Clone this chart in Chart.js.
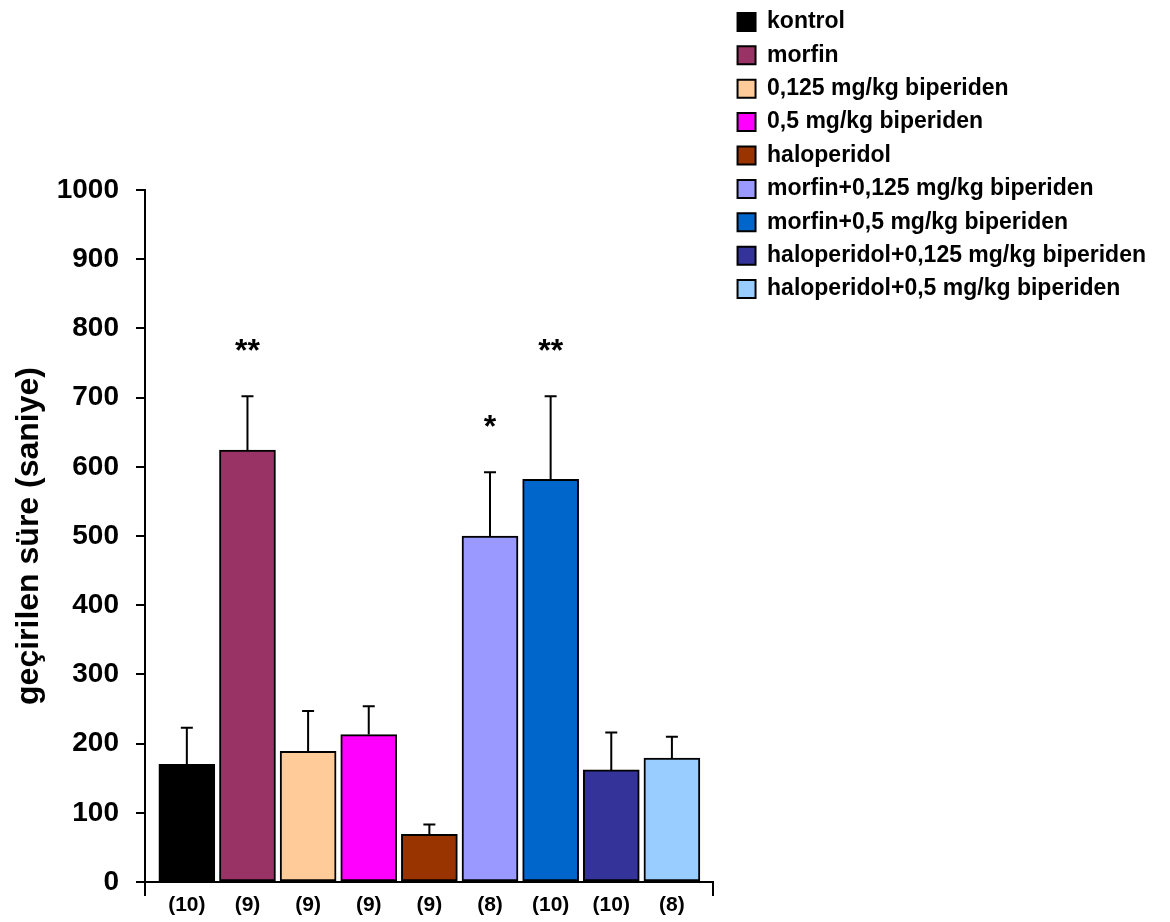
<!DOCTYPE html>
<html>
<head>
<meta charset="utf-8">
<script src="https://cdn.jsdelivr.net/npm/chart.js@4.4.0/dist/chart.umd.min.js"></script>
<style>
  html, body { margin: 0; padding: 0; background: #fff; }
  #wrap { width: 1170px; height: 922px; }
</style>
</head>
<body>
<div id="wrap"><canvas id="chart"></canvas></div>
<script>
const groups = ['kontrol', 'morfin', '0,125 mg/kg biperiden', '0,5 mg/kg biperiden', 'haloperidol',
  'morfin+0,125 mg/kg biperiden', 'morfin+0,5 mg/kg biperiden',
  'haloperidol+0,125 mg/kg biperiden', 'haloperidol+0,5 mg/kg biperiden'];
const means = [170, 624, 189, 213, 69, 500, 582, 162, 179];
const sem = [53, 78, 58, 41, 14, 92, 120, 54, 31];
const nLabels = ['(10)', '(9)', '(9)', '(9)', '(9)', '(8)', '(10)', '(10)', '(8)'];
const stars = ['', '**', '', '', '', '*', '**', '', ''];
const colors = ['#000000', '#993366', '#FFCC99', '#FF00FF', '#993300', '#9999FF', '#0066CC', '#333399', '#99CCFF'];
const yTicks = [0, 100, 200, 300, 400, 500, 600, 700, 800, 900, 1000];

const FONT = '"Liberation Sans", Arial, Helvetica, sans-serif';
Chart.defaults.font.family = FONT;
Chart.defaults.color = '#000';

// error bars (upper half only) and significance stars
const errorBars = {
  id: 'errorBars',
  afterDatasetsDraw(chart) {
    const {ctx, scales: {x, y}} = chart;
    ctx.save();
    ctx.strokeStyle = '#000';
    ctx.fillStyle = '#000';
    ctx.lineWidth = 2;
    means.forEach((m, i) => {
      const px = x.getPixelForValue(i);
      const base = y.getPixelForValue(m);
      const top = y.getPixelForValue(m + sem[i]);
      ctx.beginPath();
      ctx.moveTo(px, base);
      ctx.lineTo(px, top);
      ctx.moveTo(px - 6, top);
      ctx.lineTo(px + 6, top);
      ctx.stroke();
      if (stars[i]) {
        ctx.font = 'bold 32px ' + FONT;
        ctx.textAlign = 'center';
        ctx.textBaseline = 'alphabetic';
        ctx.fillText(stars[i], px, top - 35);
      }
    });
    ctx.restore();
  }
};

new Chart(document.getElementById('chart'), {
  type: 'bar',
  data: {
    datasets: groups.map((g, i) => ({
      label: g,
      data: [{x: i, y: means[i]}],
      backgroundColor: colors[i],
      borderColor: '#000',
      borderWidth: 2,
      borderSkipped: false,
      barThickness: 56,
      grouped: false
    }))
  },
  options: {
    responsive: true,
    maintainAspectRatio: false,
    animation: false,
    layout: { padding: { right: 14 } },
    scales: {
      x: {
        type: 'linear',
        min: -0.69,
        max: 8.68,
        offset: false,
        afterBuildTicks: s => {
          s.ticks = [s.min, ...groups.map((g, i) => i), s.max].map(v => ({value: v}));
        },
        ticks: {
          autoSkip: false,
          maxRotation: 0,
          padding: -3,
          font: { size: 21, weight: 'bold' },
          callback: v => Number.isInteger(v) ? nLabels[v] : ''
        },
        grid: {
          offset: false,
          drawOnChartArea: false,
          tickLength: 14,
          lineWidth: 2,
          color: c => (c.index === 0 || c.index === groups.length + 1) ? '#000' : 'rgba(0,0,0,0)'
        },
        border: { color: '#000', width: 2 },
        afterFit: s => { s.height = 40; }
      },
      xTop: {
        type: 'linear',
        position: 'top',
        grid: { display: false },
        border: { display: false },
        ticks: { display: false },
        afterFit: s => { s.height = 190; }
      },
      y: {
        min: 0,
        max: 1000,
        afterBuildTicks: s => { s.ticks = yTicks.map(v => ({value: v})); },
        ticks: { padding: 17, font: { size: 28, weight: 'bold' }, callback: v => String(v) },
        grid: { drawOnChartArea: false, tickLength: 9, color: '#000', lineWidth: 2 },
        border: { color: '#000', width: 2 },
        title: {
          display: true,
          text: 'geçirilen süre (saniye)',
          font: { size: 32, weight: 'bold' },
          padding: { top: 10, bottom: 0 }
        },
        afterFit: s => { s.width = 145; }
      },
      yGap: {
        type: 'linear',
        position: 'right',
        grid: { display: false },
        border: { display: false },
        ticks: { display: false },
        afterFit: s => { s.width = 14; }
      }
    },
    plugins: {
      legend: {
        position: 'right',
        align: 'start',
        maxWidth: 460,
        labels: {
          boxWidth: 18,
          boxHeight: 18,
          padding: 10.4,
          font: { size: 23, weight: 'bold' }
        }
      },
      tooltip: { enabled: false }
    }
  },
  plugins: [errorBars]
});
</script>
</body>
</html>
